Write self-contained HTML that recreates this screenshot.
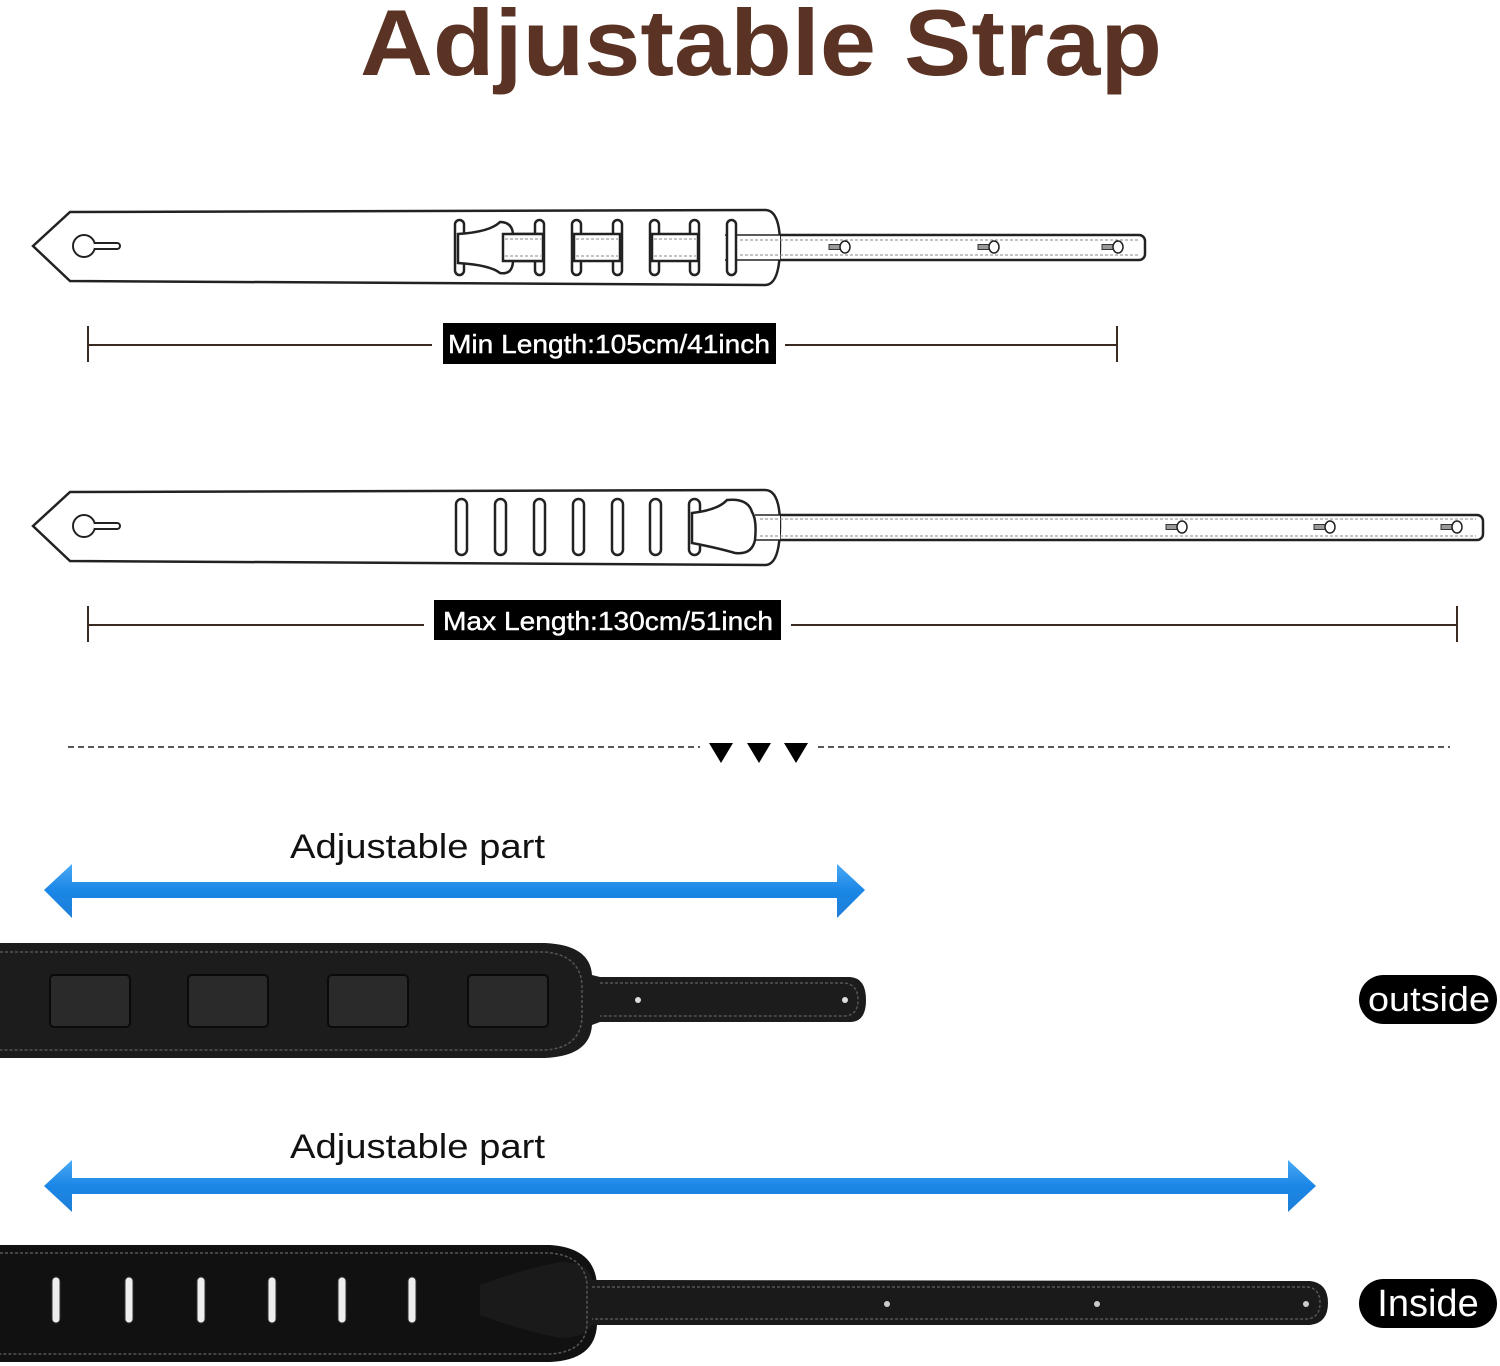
<!DOCTYPE html>
<html><head><meta charset="utf-8"><style>
html,body{margin:0;padding:0;background:#fff;}
svg{display:block;}
text{font-family:"Liberation Sans",sans-serif;}
</style></head><body>
<svg width="1500" height="1366" viewBox="0 0 1500 1366" xmlns="http://www.w3.org/2000/svg">
<defs>
<linearGradient id="blue" x1="0" y1="0" x2="0" y2="1">
<stop offset="0" stop-color="#4aaaf5"/><stop offset="0.5" stop-color="#1a86e6"/><stop offset="1" stop-color="#1f7fd8"/>
</linearGradient>
<g id="key"><circle cx="0" cy="0" r="11" fill="#fff" stroke="#222" stroke-width="2"/><path d="M10,-3 H33 a3,3 0 0 1 0,6 H10" fill="#fff" stroke="#222" stroke-width="2"/></g>
<g id="hole"><rect x="-14" y="-2.5" width="12" height="5" fill="#999" stroke="#333" stroke-width="1"/><ellipse cx="2" cy="0" rx="5" ry="6" fill="#fff" stroke="#222" stroke-width="1.5"/></g>
</defs>

<text x="761" y="75" text-anchor="middle" font-size="94" font-weight="bold" fill="#5a3324" textLength="802" lengthAdjust="spacingAndGlyphs">Adjustable Strap</text>

<!-- Strap 1 -->
<g fill="#fff" stroke="#222" stroke-width="2.5">
<rect x="725" y="235" width="420" height="25" rx="6"/>
<path d="M33,246 L70,212 L765,210 Q780,210 780,245 Q780,285 765,285 L70,281 Z"/>
<rect x="725" y="235" width="55" height="25" stroke="none"/>
<line x1="725" y1="235" x2="780" y2="235" stroke-width="1.5"/><line x1="725" y1="260" x2="780" y2="260" stroke-width="1.5"/>
</g>
<use href="#key" x="84" y="246"/>
<g fill="#fff" stroke="#222" stroke-width="2.5">
<rect x="455" y="220" width="9" height="55" rx="4.5"/><rect x="535" y="220" width="9" height="55" rx="4.5"/>
<rect x="572" y="220" width="9" height="55" rx="4.5"/><rect x="613" y="220" width="9" height="55" rx="4.5"/>
<rect x="650" y="220" width="9" height="55" rx="4.5"/><rect x="690" y="220" width="9" height="55" rx="4.5"/>
<rect x="727" y="220" width="9" height="55" rx="4.5"/>
<rect x="503" y="234" width="40" height="27"/><rect x="574" y="234" width="46" height="27"/><rect x="652" y="234" width="46" height="27"/>
<path d="M458,234 Q490,232 500,222 Q512,222 513,234 L513,262 Q512,275 500,273 Q490,265 458,263 Z"/>
<rect x="503" y="234" width="40" height="27"/>
</g>
<g fill="none" stroke="#888" stroke-width="1" stroke-dasharray="3,2">
<line x1="740" y1="240" x2="1138" y2="240"/><line x1="740" y1="255" x2="1138" y2="255"/>
<line x1="576" y1="239" x2="618" y2="239"/><line x1="576" y1="256" x2="618" y2="256"/>
<line x1="654" y1="239" x2="696" y2="239"/><line x1="654" y1="256" x2="696" y2="256"/>
<line x1="505" y1="239" x2="541" y2="239"/><line x1="505" y1="256" x2="541" y2="256"/>
</g>
<use href="#hole" x="843" y="247"/><use href="#hole" x="992" y="247"/><use href="#hole" x="1116" y="247"/>

<!-- measure 1 -->
<g stroke="#3a2a22" stroke-width="2"><line x1="88" y1="345" x2="1117" y2="345"/><line x1="88" y1="326" x2="88" y2="362"/><line x1="1117" y1="326" x2="1117" y2="362"/></g>
<rect x="432" y="323" width="353" height="42" fill="#fff"/>
<rect x="443" y="323" width="333" height="41" fill="#000"/>
<text x="448" y="353" font-size="26" fill="#fff" stroke="#fff" stroke-width="0.4" textLength="322" lengthAdjust="spacingAndGlyphs">Min Length:105cm/41inch</text>

<!-- Strap 2 -->
<g fill="#fff" stroke="#222" stroke-width="2.5">
<rect x="740" y="515" width="743" height="25" rx="6"/>
<path d="M33,526 L70,492 L765,490 Q780,490 780,525 Q780,565 765,565 L70,561 Z"/>
<rect x="740" y="515" width="40" height="25" stroke="none"/>
<line x1="755" y1="515" x2="780" y2="515" stroke-width="1.5"/><line x1="755" y1="540" x2="780" y2="540" stroke-width="1.5"/>
</g>
<use href="#key" x="84" y="526"/>
<g fill="#fff" stroke="#222" stroke-width="2.5">
<rect x="456" y="499" width="11" height="56" rx="5.5"/><rect x="495" y="499" width="11" height="56" rx="5.5"/>
<rect x="534" y="499" width="11" height="56" rx="5.5"/><rect x="573" y="499" width="11" height="56" rx="5.5"/>
<rect x="612" y="499" width="11" height="56" rx="5.5"/><rect x="650" y="499" width="11" height="56" rx="5.5"/>
<rect x="689" y="499" width="11" height="56" rx="5.5"/>
<path d="M692,513 Q718,510 727,500 Q748,498 752,512 Q757,520 755,540 Q752,555 735,553 Q718,548 692,543 Z"/>
</g>
<g fill="none" stroke="#888" stroke-width="1" stroke-dasharray="3,2">
<line x1="760" y1="519" x2="1476" y2="519"/><line x1="760" y1="536" x2="1476" y2="536"/>
</g>
<use href="#hole" x="1180" y="527"/><use href="#hole" x="1328" y="527"/><use href="#hole" x="1455" y="527"/>

<!-- measure 2 -->
<g stroke="#3a2a22" stroke-width="2"><line x1="88" y1="625" x2="1457" y2="625"/><line x1="88" y1="606" x2="88" y2="642"/><line x1="1457" y1="606" x2="1457" y2="642"/></g>
<rect x="424" y="600" width="367" height="41" fill="#fff"/>
<rect x="434" y="600" width="347" height="40" fill="#000"/>
<text x="443" y="630" font-size="26" fill="#fff" stroke="#fff" stroke-width="0.4" textLength="330" lengthAdjust="spacingAndGlyphs">Max Length:130cm/51inch</text>

<!-- divider -->
<line x1="68" y1="747" x2="700" y2="747" stroke="#222" stroke-width="1.5" stroke-dasharray="6,4"/>
<line x1="818" y1="747" x2="1450" y2="747" stroke="#222" stroke-width="1.5" stroke-dasharray="6,4"/>
<path d="M709,743 H733 L721,763 Z M747,743 H771 L759,763 Z M784,743 H808 L796,763 Z" fill="#000"/>

<!-- arrow 1 -->
<text x="290" y="858" font-size="34" fill="#111" textLength="255" lengthAdjust="spacingAndGlyphs">Adjustable part</text>
<path d="M44,890 L72,864 L72,882 L837,882 L837,864 L865,890 L837,918 L837,898 L72,898 L72,918 Z" fill="url(#blue)"/>
<!-- black strap 1 -->
<path d="M0,943 L545,943 Q590,945 592,975 L600,977 L850,977 Q866,978 866,1000 Q866,1022 850,1022 L600,1022 L592,1025 Q590,1056 545,1058 L0,1058 Z" fill="#1c1c1c"/>
<g fill="none" stroke="#555" stroke-width="1.5" stroke-dasharray="3,2">
<path d="M0,952 H545 Q580,955 582,985 V1018 Q580,1048 545,1050 H0"/>
<path d="M600,983 H845 Q858,985 858,1000 Q858,1015 845,1016 H600"/>
</g>
<g fill="#2a2a2a" stroke="#0a0a0a" stroke-width="2">
<rect x="50" y="975" width="80" height="52" rx="4"/><rect x="188" y="975" width="80" height="52" rx="4"/>
<rect x="328" y="975" width="80" height="52" rx="4"/><rect x="468" y="975" width="80" height="52" rx="4"/>
</g>
<circle cx="638" cy="1000" r="3" fill="#ddd"/><circle cx="845" cy="1000" r="3" fill="#ddd"/>
<rect x="1359" y="975" width="138" height="49" rx="24.5" fill="#000"/>
<text x="1368" y="1011" font-size="34" fill="#fff" textLength="122" lengthAdjust="spacingAndGlyphs">outside</text>

<!-- arrow 2 -->
<text x="290" y="1158" font-size="34" fill="#111" textLength="255" lengthAdjust="spacingAndGlyphs">Adjustable part</text>
<path d="M44,1186 L72,1160 L72,1178 L1288,1178 L1288,1160 L1316,1186 L1288,1212 L1288,1194 L72,1194 L72,1212 Z" fill="url(#blue)"/>
<!-- black strap 2 -->
<path d="M0,1245 L550,1245 Q595,1248 597,1285 L597,1325 Q595,1360 550,1362 L0,1362 Z" fill="#111"/>
<path d="M480,1285 Q520,1270 560,1262 Q590,1262 592,1280 L1310,1281 Q1328,1283 1328,1303 Q1328,1323 1310,1325 L592,1325 Q585,1338 560,1338 Q520,1330 480,1315 Z" fill="#1a1a1a"/>
<g fill="none" stroke="#555" stroke-width="1.5" stroke-dasharray="3,2">
<path d="M0,1253 H550 Q585,1256 587,1285 V1325 Q585,1352 550,1354 H0"/>
<path d="M592,1287 H1308 Q1320,1289 1320,1303 Q1320,1317 1308,1319 H592"/>
</g>
<g fill="#eee" stroke="#333" stroke-width="1">
<rect x="52" y="1277" width="8" height="46" rx="4"/><rect x="125" y="1277" width="8" height="46" rx="4"/>
<rect x="197" y="1277" width="8" height="46" rx="4"/><rect x="268" y="1277" width="8" height="46" rx="4"/>
<rect x="338" y="1277" width="8" height="46" rx="4"/><rect x="408" y="1277" width="8" height="46" rx="4"/>
</g>
<circle cx="887" cy="1304" r="3" fill="#ccc"/><circle cx="1097" cy="1304" r="3" fill="#ccc"/><circle cx="1306" cy="1304" r="3" fill="#ccc"/>
<rect x="1359" y="1279" width="138" height="49" rx="24.5" fill="#000"/>
<text x="1428" y="1316" text-anchor="middle" font-size="38" fill="#fff">Inside</text>
</svg>
</body></html>
